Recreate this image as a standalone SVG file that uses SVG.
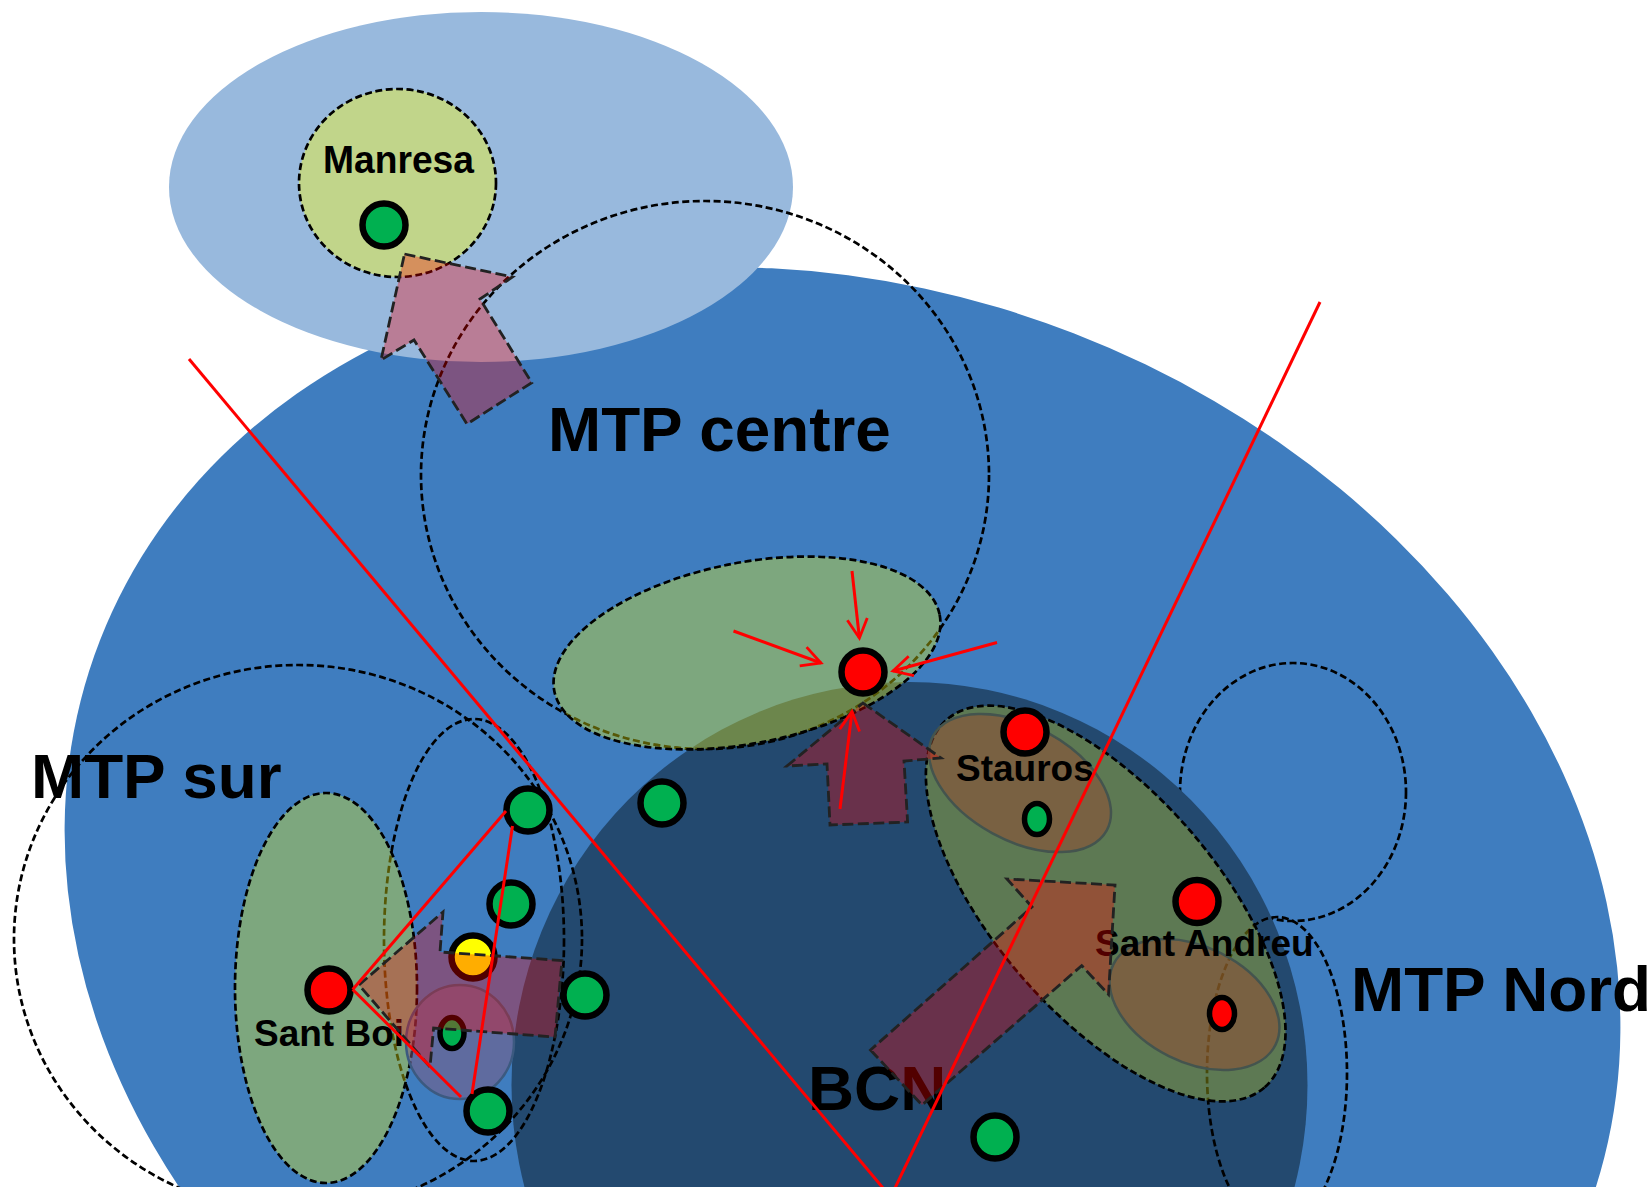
<svg xmlns="http://www.w3.org/2000/svg" width="1651" height="1187" viewBox="0 0 1651 1187">
<style>
text{font-family:"Liberation Sans",Arial,sans-serif;font-weight:bold;fill:#000}
.big{font-size:63.8px}
.mid{font-size:37px}
.dash{fill:none;stroke:#000;stroke-width:2.7;stroke-dasharray:7 3.5}
.zone{fill:#e8f010;fill-opacity:.37;stroke:#000;stroke-width:2.7;stroke-dasharray:7 3.5}
.brown{fill:#964a32;fill-opacity:.5;stroke:#44544e;stroke-width:2.5}
.arrow{fill:#ff0000;fill-opacity:.32;stroke:#222;stroke-width:2.8;stroke-dasharray:11 4.5}
.dot{stroke:#000;stroke-width:6.5}
.g{fill:#00b050}.r{fill:#ff0000}.y{fill:#ffff00}
.link{fill:none;stroke:#ff0000;stroke-width:3}
</style>
<defs>
<marker id="open" markerUnits="userSpaceOnUse" markerWidth="24" markerHeight="26" refX="21" refY="12" orient="auto" viewBox="0 0 24 24">
<path d="M2,2 L21,12 L2,22" fill="none" stroke="#ff0000" stroke-width="2.8"/>
</marker>
</defs>
<g id="region-mtp"><ellipse cx="842.5" cy="929" rx="796.7" ry="639" transform="rotate(21.2 842.5 929)" fill="#3f7dbf"/></g>
<g id="region-outer"><ellipse cx="481" cy="187" rx="312" ry="175" fill="#98b9dd"/></g>
<g id="circle-nord-top"><ellipse class="dash" cx="1293" cy="792" rx="113" ry="129"/></g>
<g id="region-bcn"><ellipse cx="909.5" cy="1085" rx="398" ry="403" fill="#23496f"/></g>
<g id="circle-nord-low"><ellipse class="dash" cx="1277" cy="1073" rx="70" ry="156"/></g>
<g id="circle-centre"><ellipse class="dash" cx="705" cy="475" rx="284" ry="274"/></g>
<g id="circle-sur"><ellipse class="dash" cx="298" cy="939" rx="284" ry="274"/></g>
<g id="circle-sur-inner"><ellipse class="dash" cx="474" cy="940" rx="90" ry="221"/></g>
<g id="zone-manresa"><ellipse cx="397.5" cy="183" rx="98.5" ry="94" fill="#c1d58a" stroke="#000" stroke-width="2.7" stroke-dasharray="7 3.5"/></g>
<g id="zone-centre"><ellipse class="zone" cx="747" cy="653" rx="196.4" ry="90.3" transform="rotate(-11.2 747 653)"/></g>
<g id="zone-santboi"><ellipse class="zone" cx="326" cy="988" rx="91" ry="195"/></g>
<g id="zone-east"><ellipse class="zone" cx="1105.7" cy="903.5" rx="243" ry="111.5" transform="rotate(49.2 1105.7 903.5)" style="fill:#cbd31f;fill-opacity:.35"/></g>
<g id="zone-stauros"><ellipse class="brown" cx="1020" cy="783" rx="98.8" ry="57.4" transform="rotate(28.6 1020 783)"/></g>
<g id="zone-andreu"><ellipse class="brown" cx="1194.5" cy="1004.5" rx="90.5" ry="57.6" transform="rotate(26.5 1194.5 1004.5)"/></g>
<g id="zone-purple"><ellipse cx="460" cy="1042" rx="54" ry="57" fill="#7f5980" fill-opacity=".5" stroke="#3c5a80" stroke-width="2.5"/></g>
<g id="labels">
<text class="big" x="548" y="451">MTP centre</text>
<text class="big" x="31" y="798">MTP sur</text>
<text class="big" x="1351" y="1011">MTP Nord</text>
<text class="big" x="808" y="1110">BCN</text>
<text class="mid" x="323" y="173" style="font-size:38px" textLength="151" lengthAdjust="spacingAndGlyphs">Manresa</text>
<text class="mid" x="254" y="1046">Sant Boi</text>
<text class="mid" x="956" y="781">Stauros</text>
<text class="mid" x="1095" y="956">Sant Andreu</text>
</g>
<g id="node-manresa"><circle class="dot g" cx="384" cy="225" r="21.5"/></g>
<g id="node-g1"><circle class="dot g" cx="528" cy="810" r="21.5"/></g>
<g id="node-g2"><circle class="dot g" cx="511" cy="904" r="21.5"/></g>
<g id="node-g3"><circle class="dot g" cx="585" cy="995" r="21.5"/></g>
<g id="node-g4"><circle class="dot g" cx="488" cy="1111" r="21.5"/></g>
<g id="node-g5"><circle class="dot g" cx="662" cy="803" r="21.5"/></g>
<g id="node-g6"><circle class="dot g" cx="995" cy="1137" r="21.5"/></g>
<g id="node-yellow"><circle class="dot y" cx="473" cy="957" r="21.5"/></g>
<g id="node-santboi"><circle class="dot r" cx="329" cy="990" r="21.5"/></g>
<g id="node-centre"><circle class="dot r" cx="863" cy="672" r="21.5"/></g>
<g id="node-stauros"><circle class="dot r" cx="1025" cy="732" r="21.5"/></g>
<g id="node-andreu"><circle class="dot r" cx="1197" cy="901.5" r="21.5"/></g>
<g id="node-small-g1"><ellipse class="dot g" cx="452" cy="1033" rx="12" ry="15.5" style="stroke-width:5.5"/></g>
<g id="node-small-g2"><ellipse class="dot g" cx="1037" cy="819" rx="12.5" ry="15.5" style="stroke-width:5.5"/></g>
<g id="node-small-r"><ellipse class="dot r" cx="1222" cy="1013.5" rx="12.5" ry="16" style="stroke-width:5.5"/></g>
<g id="arrow-manresa"><polygon class="arrow" points="404.5,254 512.5,277 480,299 531.7,382.7 467,424 414,340 381,360"/></g>
<g id="arrow-santboi"><polygon class="arrow" points="359,985 443,912 440,952 562,960.5 555,1037 433.6,1028 430,1067"/></g>
<g id="arrow-stauros"><polygon class="arrow" points="863,703 941,758 904,761 907.6,822 830,825 827,764 787,766"/></g>
<g id="arrow-east"><polygon class="arrow" points="870.5,1050 922,1105 1081.7,965.6 1108.5,994.5 1115,885 1007,879 1032,907"/></g>
<g id="connectors">
<line class="link" x1="189" y1="359" x2="883" y2="1188"/>
<line class="link" x1="1320" y1="302" x2="895" y2="1188"/>
<line class="link" x1="506" y1="811" x2="352.7" y2="989.5"/>
<line class="link" x1="352.7" y1="989.5" x2="461" y2="1097"/>
<line class="link" x1="512.5" y1="826" x2="472" y2="1094"/>
<line class="link" x1="852" y1="571" x2="859.4" y2="638" marker-end="url(#open)"/>
<line class="link" x1="733.5" y1="631" x2="821" y2="663" marker-end="url(#open)"/>
<line class="link" x1="997" y1="642.5" x2="893" y2="671" marker-end="url(#open)"/>
<line class="link" x1="840" y1="809" x2="852" y2="711.5" marker-end="url(#open)"/>
</g>
</svg>
